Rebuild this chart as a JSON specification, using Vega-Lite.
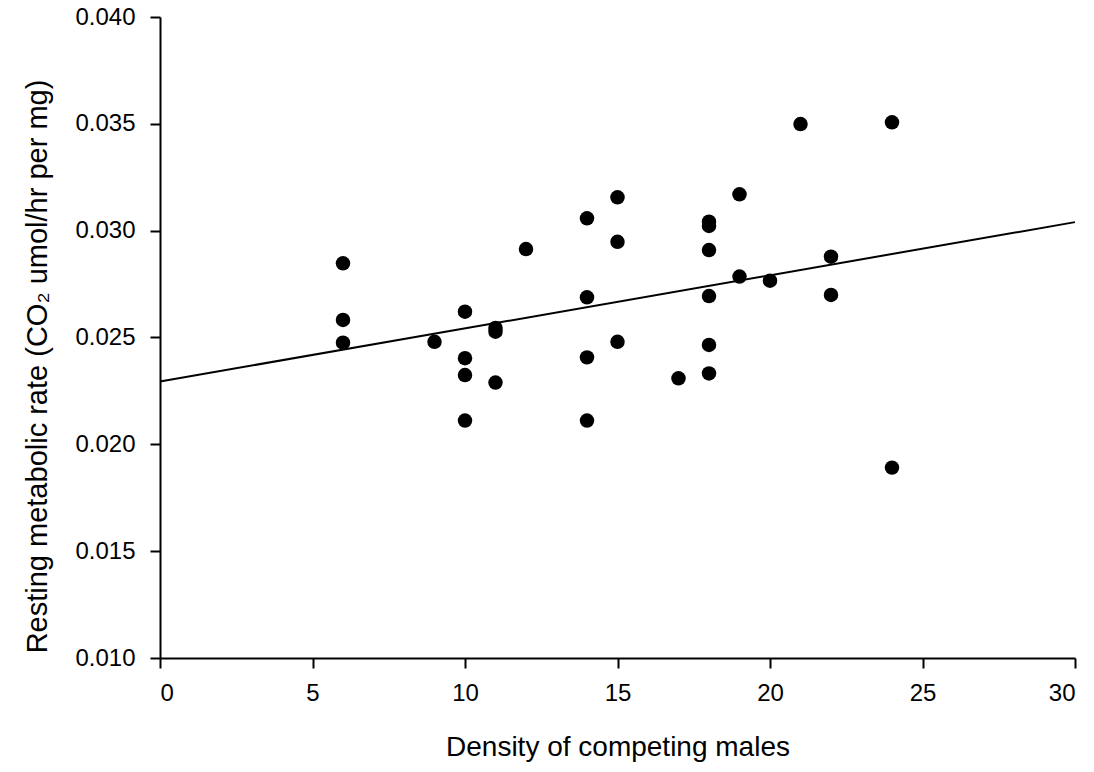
{
  "$schema": "https://vega.github.io/schema/vega-lite/v6.json",
  "autosize": "none",
  "width": 915,
  "height": 641,
  "padding": {"left": 160, "top": 17, "right": 19, "bottom": 114},
  "background": "white",
  "config": {
    "view": {"stroke": null},
    "font": "Liberation Sans",
    "axis": {
      "grid": false,
      "domainColor": "black",
      "domainWidth": 2,
      "tickColor": "black",
      "tickWidth": 2,
      "tickSize": 10,
      "labelColor": "black",
      "labelFont": "Liberation Sans",
      "titleFont": "Liberation Sans",
      "titleFontWeight": "normal",
      "titleColor": "black"
    }
  },
  "datasets": {
    "points": [
      {"density": 6, "rate": 0.02847},
      {"density": 6, "rate": 0.02582},
      {"density": 6, "rate": 0.02476},
      {"density": 9, "rate": 0.0248},
      {"density": 10, "rate": 0.02621},
      {"density": 10, "rate": 0.02403},
      {"density": 10, "rate": 0.02324},
      {"density": 10, "rate": 0.02111},
      {"density": 11, "rate": 0.02545},
      {"density": 11, "rate": 0.02527},
      {"density": 11, "rate": 0.02289},
      {"density": 12, "rate": 0.02914},
      {"density": 14, "rate": 0.03058},
      {"density": 14, "rate": 0.02688},
      {"density": 14, "rate": 0.02407},
      {"density": 14, "rate": 0.02111},
      {"density": 15, "rate": 0.03156},
      {"density": 15, "rate": 0.02948},
      {"density": 15, "rate": 0.0248},
      {"density": 17, "rate": 0.02309},
      {"density": 18, "rate": 0.03042},
      {"density": 18, "rate": 0.03022},
      {"density": 18, "rate": 0.02909},
      {"density": 18, "rate": 0.02694},
      {"density": 18, "rate": 0.02465},
      {"density": 18, "rate": 0.02332},
      {"density": 19, "rate": 0.0317},
      {"density": 19, "rate": 0.02785},
      {"density": 20, "rate": 0.02766},
      {"density": 21, "rate": 0.03499},
      {"density": 22, "rate": 0.02878},
      {"density": 22, "rate": 0.02699},
      {"density": 24, "rate": 0.03507},
      {"density": 24, "rate": 0.01891}
    ],
    "fit": [
      {"density": 0, "rate": 0.02294},
      {"density": 30, "rate": 0.0304}
    ]
  },
  "layer": [
    {
      "data": {"name": "fit"},
      "mark": {"type": "line", "color": "black", "strokeWidth": 2},
      "encoding": {
        "x": {"field": "density", "type": "quantitative"},
        "y": {"field": "rate", "type": "quantitative"}
      }
    },
    {
      "data": {"name": "points"},
      "mark": {"type": "point", "filled": true, "shape": "circle", "size": 210, "color": "black", "opacity": 1},
      "encoding": {
        "x": {
          "field": "density", "type": "quantitative",
          "scale": {"domain": [0, 30], "nice": false, "zero": false},
          "axis": {"values": [0, 5, 10, 15, 20, 25, 30], "title": "Density of competing males", "labelFontSize": 24, "titleFontSize": 28, "labelPadding": 13, "titlePadding": 28}
        },
        "y": {
          "field": "rate", "type": "quantitative",
          "scale": {"domain": [0.01, 0.04], "nice": false, "zero": false},
          "axis": {"values": [0.01, 0.015, 0.02, 0.025, 0.03, 0.035, 0.04], "format": ".3f", "title": "Resting metabolic rate (CO₂ umol/hr per mg)", "labelFontSize": 24, "titleFontSize": 29, "labelPadding": 15, "titlePadding": 22, "titleY": 349}
        }
      }
    }
  ]
}
